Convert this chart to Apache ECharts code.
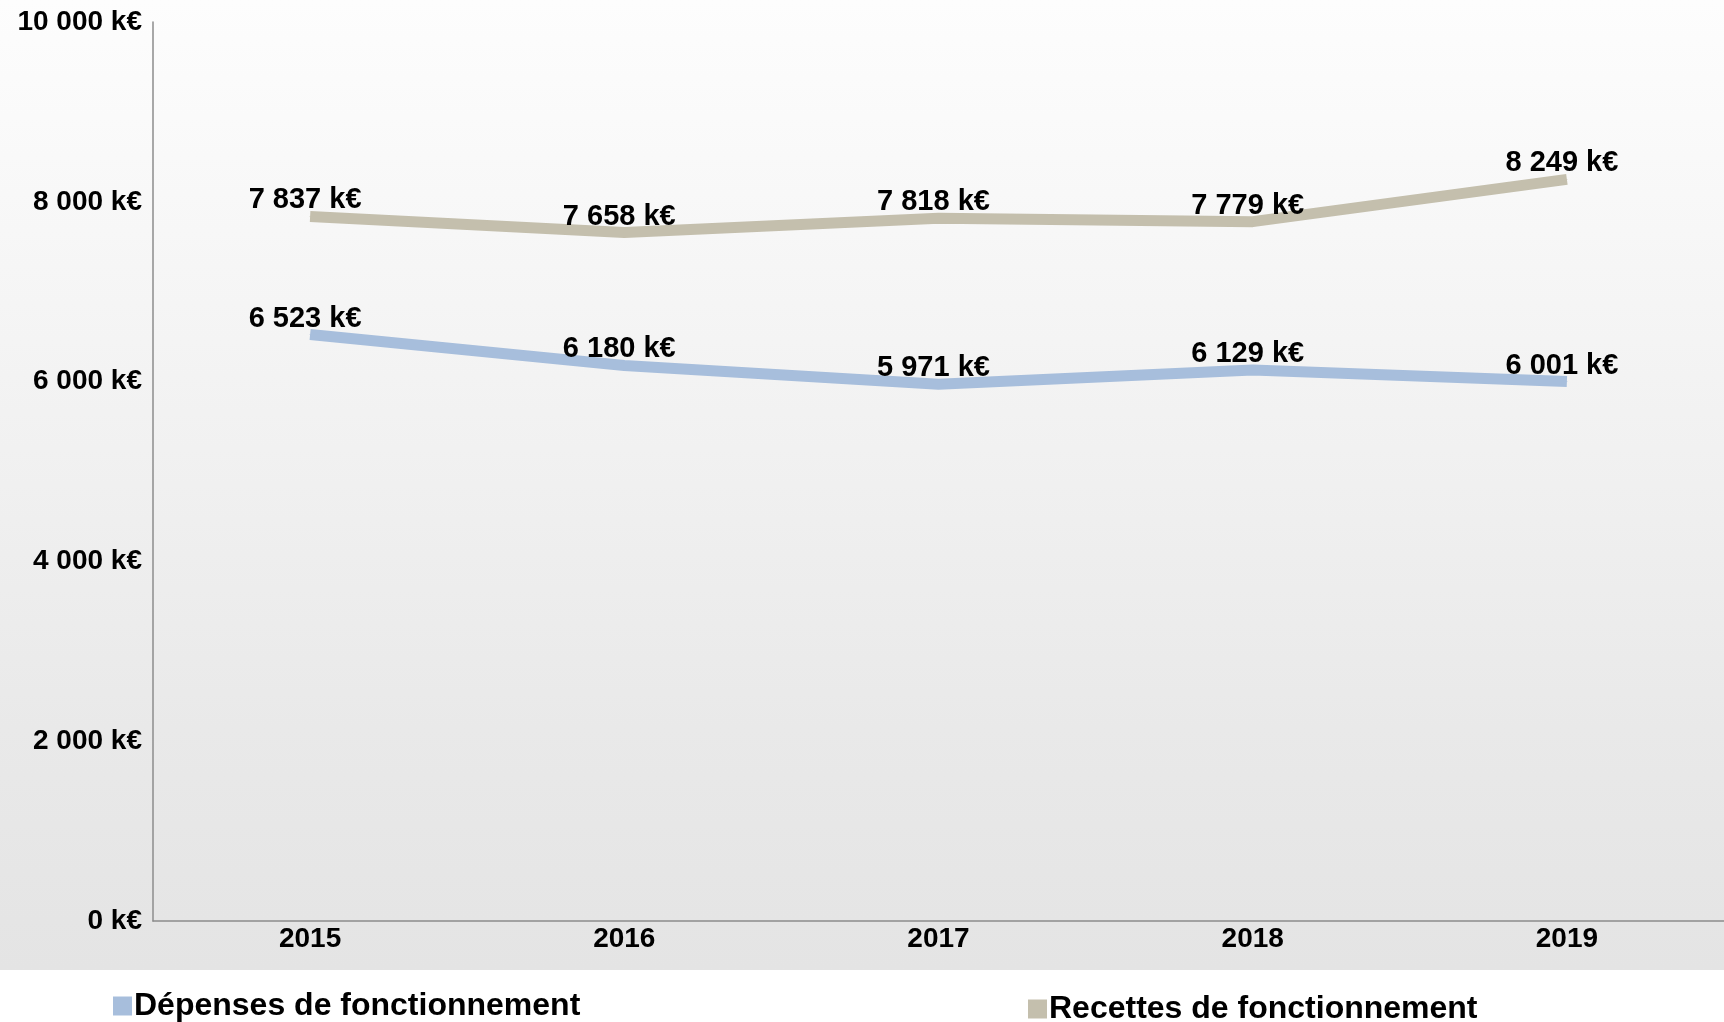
<!DOCTYPE html>
<html>
<head>
<meta charset="utf-8">
<script src="https://cdn.jsdelivr.net/npm/echarts@6/dist/echarts.min.js"></script>
<style>
html,body{margin:0;padding:0;background:#fff;}
#c{width:1724px;height:1022px;}
</style>
</head>
<body>
<div id="c"></div>
<script>
const years = ['2015', '2016', '2017', '2018', '2019'];
const depenses = [6523, 6180, 5971, 6129, 6001];
const recettes = [7837, 7658, 7818, 7779, 8249];
const seriesNames = ['Dépenses de fonctionnement', 'Recettes de fonctionnement'];
const yTicks = { min: 0, max: 10000, interval: 2000 };

function fmt(v) {
  return String(Math.round(v)).replace(/\B(?=(\d{3})+(?!\d))/g, ' ') + ' k€';
}

const FONT = '"Liberation Sans", Arial, sans-serif';
const chart = echarts.init(document.getElementById('c'), null, { renderer: 'canvas' });

const labelStyle = {
  show: true,
  position: 'top',
  distance: 6,
  offset: [-5, 5],
  fontFamily: FONT,
  fontWeight: 'bold',
  fontSize: 29,
  color: '#000',
  formatter: p => fmt(p.value)
};

const legendBase = {
  itemWidth: 19,
  itemHeight: 19,
  icon: 'rect',
  textStyle: { fontFamily: FONT, fontWeight: 'bold', fontSize: 32, color: '#000', padding: [0, 0, 0, -3] }
};

chart.setOption({
  backgroundColor: '#ffffff',
  animation: false,
  graphic: [{
    type: 'rect',
    z: -10,
    silent: true,
    shape: { x: 0, y: 0, width: 1724, height: 970 },
    style: {
      fill: new echarts.graphic.LinearGradient(0, 0, 0, 1, [
        { offset: 0, color: '#fdfdfd' },
        { offset: 0.2, color: '#f8f8f8' },
        { offset: 0.5, color: '#f0f0f0' },
        { offset: 0.75, color: '#e9e9e9' },
        { offset: 1, color: '#e4e4e4' }
      ])
    }
  }],
  grid: { left: 153, right: 0, top: 22, bottom: 101, containLabel: false },
  legend: [
    Object.assign({ left: 108, top: 985, data: [seriesNames[0]] }, legendBase),
    Object.assign({ left: 1023, top: 988, data: [seriesNames[1]] }, legendBase)
  ],
  xAxis: {
    type: 'category',
    data: years,
    boundaryGap: true,
    axisLine: { lineStyle: { color: '#8c8c8c', width: 1.5 } },
    axisTick: { show: false },
    axisLabel: { fontFamily: FONT, fontWeight: 'bold', fontSize: 28, color: '#000', margin: 4 }
  },
  yAxis: {
    type: 'value',
    min: yTicks.min,
    max: yTicks.max,
    interval: yTicks.interval,
    axisLine: { show: true, lineStyle: { color: '#8c8c8c', width: 1.5 } },
    axisTick: { show: false },
    splitLine: { show: false },
    axisLabel: { fontFamily: FONT, fontWeight: 'bold', fontSize: 28, color: '#000', margin: 11, formatter: v => fmt(v) }
  },
  series: [
    {
      name: seriesNames[0],
      type: 'line',
      data: depenses,
      showSymbol: true,
      symbol: 'circle',
      symbolSize: 1,
      itemStyle: { color: '#a7bedc' },
      lineStyle: { color: '#a7bedc', width: 11, cap: 'butt', join: 'round' },
      label: labelStyle
    },
    {
      name: seriesNames[1],
      type: 'line',
      data: recettes,
      showSymbol: true,
      symbol: 'circle',
      symbolSize: 1,
      itemStyle: { color: '#c4bfad' },
      lineStyle: { color: '#c4bfad', width: 11, cap: 'butt', join: 'round' },
      label: labelStyle
    }
  ]
});
</script>
</body>
</html>
